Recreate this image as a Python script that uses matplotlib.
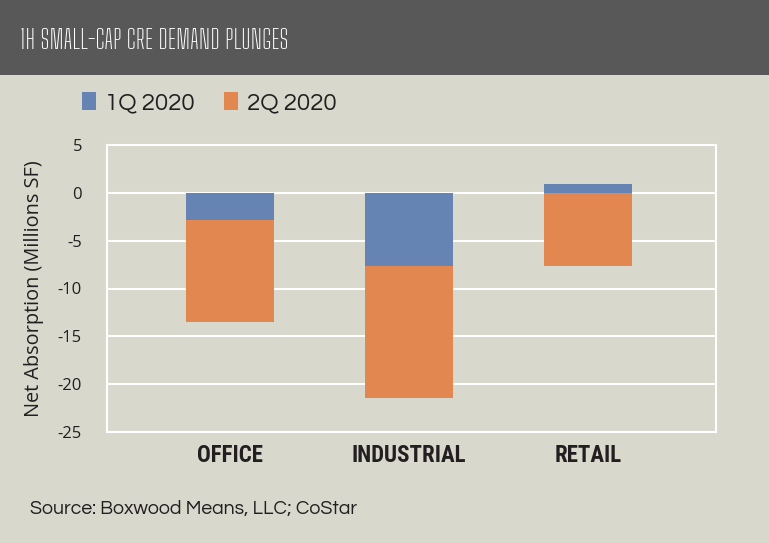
import numpy as np
import matplotlib
matplotlib.use("Agg")
import matplotlib.pyplot as plt
from matplotlib import font_manager
from matplotlib.patches import Rectangle, Patch

categories = ["OFFICE", "INDUSTRIAL", "RETAIL"]
q1_2020 = [-2.8, -7.6, 0.9]
q2_2020 = [-10.7, -13.8, -7.6]
series_names = ["1Q 2020", "2Q 2020"]
y_ticks = [5, 0, -5, -10, -15, -20, -25]

BG = "#d8d8cc"
HEADER = "#585858"
BLUE = "#6584b4"
ORANGE = "#e2874f"
TEXT = "#231f20"

names = {f.name for f in font_manager.fontManager.ttflist}


def pick(*fams):
    for f in fams:
        if f in names:
            return f
    return "DejaVu Sans"


title_font = pick("Big Shoulders Text", "League Gothic", "Pathway Gothic One")
cat_font = pick("Roboto Condensed", "Fira Sans Condensed", "Barlow Semi Condensed")
legend_font = pick("Questrial", "Lato")
axis_font = pick("Open Sans", "Lato")

fig = plt.figure(figsize=(7.69, 5.43), dpi=100)
fig.patch.set_facecolor(BG)

# header band
fig.add_artist(Rectangle((0, 1 - 75 / 543), 1, 75 / 543, transform=fig.transFigure,
                         facecolor=HEADER, edgecolor="none"))
title = fig.text(20 / 769, 1 - 49 / 543, "1H SMALL-CAP CRE DEMAND PLUNGES", color="white",
                 fontsize=20, fontfamily=title_font, va="baseline", ha="left")
# fit title to the same width as the original
r = fig.canvas.get_renderer()
w = title.get_window_extent(r).width
title.set_fontsize(20 * 268 / w)

ax = fig.add_axes([107 / 769, 1 - 432 / 543, (716 - 107) / 769, (432 - 145) / 543])
ax.set_facecolor(BG)

x = np.arange(len(categories))
q1 = np.array(q1_2020)
q2 = np.array(q2_2020)
bottom2 = np.where(q1 < 0, q1, 0)
ax.bar(x, q1, width=0.49, color=BLUE, zorder=3)
ax.bar(x, q2, width=0.49, bottom=bottom2, color=ORANGE, zorder=3)

ax.set_xlim(-0.687, 2.715)
ax.set_ylim(-25, 5)
ax.set_yticks(y_ticks)
ax.set_yticklabels([str(v) for v in y_ticks], fontfamily=axis_font, fontsize=12, color=TEXT)
ax.set_xticks(x)
ax.set_xticklabels(categories, fontfamily=cat_font, fontweight="bold", fontsize=16.5,
                   color=TEXT)
ax.tick_params(length=0)
ax.tick_params(axis="y", pad=18)
ax.tick_params(axis="x", pad=9)
ax.grid(axis="y", color="white", linewidth=1.5, zorder=0)
for s in ax.spines.values():
    s.set_color("white")
    s.set_linewidth(1.5)
ax.set_ylabel("Net Absorption (Millions SF)", fontfamily=axis_font, fontsize=14.3,
              color=TEXT, labelpad=10)

handles = [Patch(facecolor=BLUE), Patch(facecolor=ORANGE)]
fig.legend(handles, series_names, loc="center left",
           bbox_to_anchor=(60 / 769, 1 - 103 / 543), ncol=2, frameon=False,
           prop={"family": legend_font, "size": 17.5}, handlelength=0.6, handleheight=0.8,
           handletextpad=0.35, columnspacing=1.2, labelcolor=TEXT)

fig.text(30 / 769, 1 - 509 / 543, "Source: Boxwood Means, LLC; CoStar",
         fontfamily=legend_font, fontsize=14, color=TEXT, va="center", ha="left")

fig.savefig("out.png", dpi=100, facecolor=BG)
